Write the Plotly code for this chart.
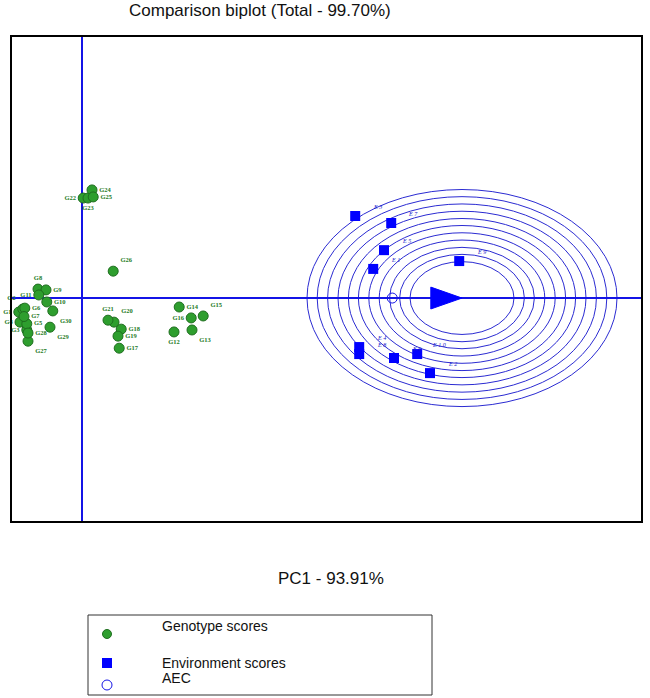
import plotly.graph_objects as go
import numpy as np

# genotype scores (PC1, PC2)
gen_names = ["G1", "G2", "G3", "G4", "G5", "G6", "G7", "G8", "G9", "G10",
             "G11", "G12", "G13", "G14", "G15", "G16", "G17", "G18", "G19", "G20",
             "G21", "G22", "G23", "G24", "G25", "G26", "G27", "G28", "G29", "G30"]
gen_pc1 = [-1.58, -1.48, -1.38, -1.55, -1.38, -1.43, -1.45, -1.10, -0.90, -0.88,
           -1.08, 2.30, 2.75, 2.43, 3.03, 2.73, 0.93, 0.98, 0.90, 0.80,
           0.65, 0.03, 0.15, 0.25, 0.28, 0.78, -1.35, -1.35, -0.80, -0.73]
gen_pc2 = [-0.50, -0.39, -1.14, -0.86, -0.92, -0.36, -0.66, 0.32, 0.29, -0.14,
           0.11, -1.21, -1.14, -0.32, -0.64, -0.71, -1.79, -1.11, -1.36, -0.86,
           -0.79, 3.57, 3.57, 3.86, 3.61, 0.96, -1.54, -1.25, -1.04, -0.46]
gen_textpos = ["middle left", "top left", "middle left", "middle left", "middle right",
               "middle right", "middle right", "top center", "middle right", "middle right",
               "middle left", "bottom center", "bottom right", "middle right", "top right",
               "middle left", "middle right", "middle right", "middle right", "top right",
               "top center", "middle left", "bottom center", "middle right", "middle right",
               "top right", "bottom right", "middle right", "bottom right", "bottom right"]

# environment scores (PC1, PC2)
env_names = ["E1", "E2", "E3", "E4", "E5", "E6", "E7", "E8", "E9", "E10"]
env_pc1 = [7.28, 8.70, 6.83, 6.93, 7.55, 7.80, 7.73, 6.93, 9.43, 8.38]
env_pc2 = [1.04, -2.68, 2.93, -1.75, 1.71, -2.14, 2.68, -2.00, 1.32, -2.00]
env_labels = ["E 1", "E 2", "E 3", "E 4", "E 5", "E 6", "E 7", "E 8", "E 9", "E 1 0"]

# ideal environment and concentric rings around it
ideal_x = 9.5
ring_radii = [1.30, 1.56, 1.81, 2.07, 2.33, 2.59, 2.84, 3.10, 3.36, 3.62, 3.875]

title_text = "Comparison biplot (Total - 99.70%)"
xlabel_text = "PC1 - 93.91%"

W, H = 650, 698
BLUE = "#1414E6"
RING = "#2B2BD2"
GREEN = "#2E9E2E"
CLEAR = "rgba(0,0,0,0)"


def fx(p):
    return p / W


def fy(p):
    return 1 - p / H


aec_x = float(np.mean(env_pc1))

fig = go.Figure()

# genotypes
fig.add_trace(go.Scatter(
    x=gen_pc1, y=gen_pc2, mode="markers+text", text=gen_names,
    textposition=gen_textpos,
    textfont=dict(family="Liberation Serif", size=6.5, color="#1E7A1E", weight="bold"),
    marker=dict(symbol="circle", size=10, color=GREEN, line=dict(color="#1F6E1F", width=1)),
    showlegend=False, cliponaxis=False))

# environments
fig.add_trace(go.Scatter(
    x=env_pc1, y=env_pc2, mode="markers",
    marker=dict(symbol="square", size=10, color="#0000FF", line=dict(width=0)),
    showlegend=False))
for xv, yv, lab in zip(env_pc1, env_pc2, env_labels):
    fig.add_annotation(x=xv, y=yv, xref="x", yref="y", text=lab, showarrow=False,
                       xshift=22, yshift=9,
                       font=dict(family="Liberation Serif", size=6, color="#1414C8", style="italic"))

# AEC mark
fig.add_trace(go.Scatter(
    x=[aec_x], y=[0], mode="markers",
    marker=dict(symbol="circle-open", size=10, color=BLUE, line=dict(width=1)),
    showlegend=False))

# rings
shapes = []
for r in ring_radii:
    shapes.append(dict(type="circle", xref="x", yref="y",
                       x0=ideal_x - r, x1=ideal_x + r, y0=-r, y1=r,
                       line=dict(color=RING, width=1), layer="below"))
# AEC arrow
shapes.append(dict(type="path", xref="x", yref="y",
                   path=f"M {ideal_x - 0.78},0.39 L {ideal_x},0 L {ideal_x - 0.78},-0.39 Z",
                   fillcolor="#0000FF", line=dict(color="#0000FF", width=1)))
# legend box
shapes.append(dict(type="rect", xref="paper", yref="paper",
                   x0=fx(88), x1=fx(432), y0=fy(695), y1=fy(615),
                   line=dict(color="#333333", width=1)))

# legend symbols on an overlay axis in page pixel units
fig.add_trace(go.Scatter(x=[107], y=[634], mode="markers", xaxis="x2", yaxis="y2",
                         marker=dict(symbol="circle", size=9, color=GREEN,
                                     line=dict(color="#1F6E1F", width=1)),
                         showlegend=False, hoverinfo="skip"))
fig.add_trace(go.Scatter(x=[107], y=[663], mode="markers", xaxis="x2", yaxis="y2",
                         marker=dict(symbol="square", size=10, color="#0000FF"),
                         showlegend=False, hoverinfo="skip"))
fig.add_trace(go.Scatter(x=[107], y=[685], mode="markers", xaxis="x2", yaxis="y2",
                         marker=dict(symbol="circle-open", size=10, color=BLUE, line=dict(width=1)),
                         showlegend=False, hoverinfo="skip"))

legend_items = [("Genotype scores", 626), ("Environment scores", 663), ("AEC", 678)]
for txt, py in legend_items:
    fig.add_annotation(x=fx(160), y=fy(py), xref="paper", yref="paper", text=txt,
                       showarrow=False, xanchor="left", yanchor="middle",
                       font=dict(family="Liberation Sans", size=14, color="#111111"))

fig.add_annotation(x=fx(260), y=fy(11), xref="paper", yref="paper", text=title_text,
                   showarrow=False, xanchor="center", yanchor="middle",
                   font=dict(family="Liberation Sans", size=17, color="#111111"))
fig.add_annotation(x=fx(331), y=fy(578), xref="paper", yref="paper", text=xlabel_text,
                   showarrow=False, xanchor="center", yanchor="middle",
                   font=dict(family="Liberation Sans", size=17, color="#111111"))

fig.update_layout(
    width=W, height=H, margin=dict(l=0, r=0, t=0, b=0),
    paper_bgcolor="white", plot_bgcolor=CLEAR,
    shapes=shapes,
    xaxis=dict(domain=[fx(12), fx(641)], range=[-1.75, 13.975], showgrid=False,
               zeroline=True, zerolinecolor=BLUE, zerolinewidth=2,
               showline=True, linecolor="black", linewidth=2, mirror=True,
               showticklabels=False, ticks=""),
    yaxis=dict(domain=[fy(521), fy(37)], range=[-7.96, 9.32], showgrid=False,
               zeroline=True, zerolinecolor=BLUE, zerolinewidth=2,
               showline=True, linecolor="black", linewidth=2, mirror=True,
               showticklabels=False, ticks=""),
    xaxis2=dict(domain=[0, 1], range=[0, W], visible=False, anchor="y2"),
    yaxis2=dict(domain=[0, 1], range=[H, 0], visible=False, anchor="x2"),
)

# the page body has a default 8px margin; drop it so the figure sits at the corner
fig.write_html("out.html", config={"displayModeBar": False},
               post_script="document.body.style.margin='0';")
